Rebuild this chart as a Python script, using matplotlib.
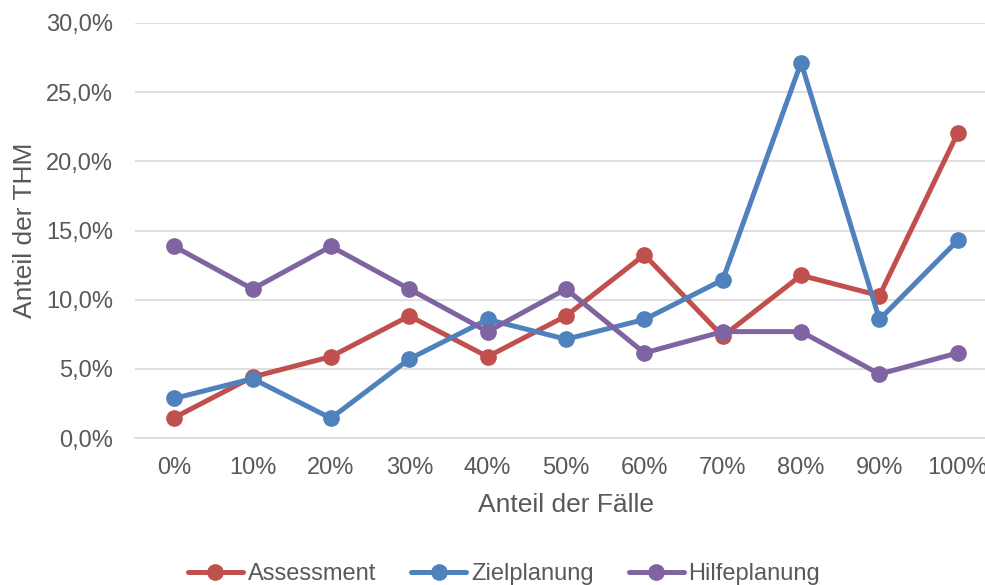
import matplotlib
matplotlib.use("Agg")
import matplotlib.pyplot as plt
from matplotlib.ticker import FuncFormatter, MultipleLocator

plt.rcParams['font.family'] = ['Liberation Sans', 'DejaVu Sans']

categories = ["0%", "10%", "20%", "30%", "40%", "50%", "60%", "70%", "80%", "90%", "100%"]

# Share of THM per case-share bucket (percent)
assessment = [1.47, 4.41, 5.88, 8.82, 5.88, 8.82, 13.24, 7.35, 11.76, 10.29, 22.06]
zielplanung = [2.86, 4.29, 1.43, 5.71, 8.57, 7.14, 8.57, 11.43, 27.14, 8.57, 14.29]
hilfeplanung = [13.85, 10.77, 13.85, 10.77, 7.69, 10.77, 6.15, 7.69, 7.69, 4.62, 6.15]

series = [
    ("Assessment", assessment, "#C0504D"),
    ("Zielplanung", zielplanung, "#4F81BD"),
    ("Hilfeplanung", hilfeplanung, "#8064A2"),
]

text_color = "#595959"
grid_color = "#D9D9D9"

W, H = 985, 585
fig = plt.figure(figsize=(W / 100, H / 100), dpi=100)
left, right, top, bottom = 135, 997, 23, 438
ax = fig.add_axes([left / W, 1 - bottom / H, (right - left) / W, (bottom - top) / H])

x = list(range(len(categories)))
for name, vals, color in series:
    ax.plot(x, vals, color=color, linewidth=3.6, marker="o", markersize=11,
            label=name, solid_capstyle="round", clip_on=False, zorder=3)

ax.set_xlim(-0.5, len(categories) - 0.5)
ax.set_ylim(0, 30)
ax.yaxis.set_major_locator(MultipleLocator(5))
ax.yaxis.set_major_formatter(FuncFormatter(lambda v, p: f"{v:.1f}".replace(".", ",") + "%"))
ax.set_xticks(x)
ax.set_xticklabels(categories)

ax.grid(axis="y", color=grid_color, linewidth=1.2, zorder=0)
ax.set_axisbelow(True)
for s in ["top", "right", "left"]:
    ax.spines[s].set_visible(False)
ax.spines["bottom"].set_color(grid_color)
ax.spines["bottom"].set_linewidth(1.2)

ax.tick_params(axis="both", length=0, labelsize=17, labelcolor=text_color)
ax.tick_params(axis="y", pad=16)
ax.tick_params(axis="x", pad=14)

ax.set_xlabel("Anteil der Fälle", fontsize=19, color=text_color, labelpad=9.5)
ax.set_ylabel("Anteil der THM", fontsize=19, color=text_color, labelpad=6)

handles, labels = ax.get_legend_handles_labels()
fig.legend(handles, labels, loc="center", bbox_to_anchor=(504 / W, 1 - 574 / H),
           ncol=3, frameon=False, fontsize=17, labelcolor=text_color,
           handlelength=2.33, handletextpad=0.21, columnspacing=1.48,
           borderaxespad=0, borderpad=0)

fig.savefig("out.png", dpi=100)
